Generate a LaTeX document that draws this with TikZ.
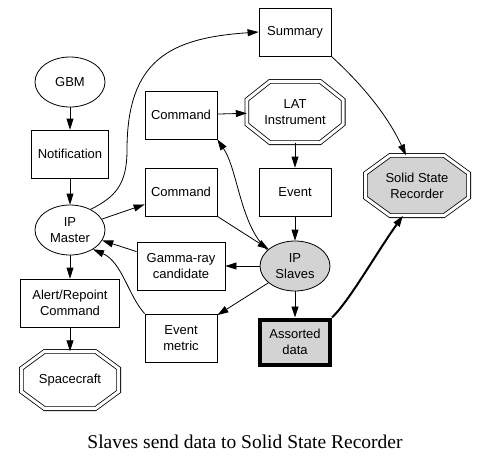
\documentclass[tikz,border=0pt]{standalone}
\usepackage{fontspec}
\setmainfont{Liberation Sans}
\newfontfamily\titleserif{Liberation Serif}
\usepackage{tikz}
\usetikzlibrary{positioning, shapes.geometric, arrows.meta, calc, backgrounds}
\definecolor{nodegray}{HTML}{D3D3D3}

% double octagon round a named node
\newcommand{\octframe}[2]{%
  \draw[octline, fill=#2]
    ($(#1.north west)!.24!(#1.north east)$) -- ($(#1.north east)!.24!(#1.north west)$)
    -- ($(#1.north east)!.3!(#1.south east)$) -- ($(#1.south east)!.3!(#1.north east)$)
    -- ($(#1.south east)!.24!(#1.south west)$) -- ($(#1.south west)!.24!(#1.south east)$)
    -- ($(#1.south west)!.3!(#1.north west)$) -- ($(#1.north west)!.3!(#1.south west)$) -- cycle;}

\begin{document}
\begin{tikzpicture}[x=1pt, y=1pt,
 font=\fontsize{13}{16}\selectfont,
 on grid,
 box/.style={draw, line width=0.8pt, minimum width=72pt, minimum height=48pt, inner xsep=6pt, align=center},
 oval/.style={draw, line width=0.8pt, ellipse, minimum width=70pt, minimum height=50pt, inner sep=0pt, align=center},
 octa/.style={rectangle, minimum width=96pt, minimum height=61pt, inner sep=0pt, align=center},
 octline/.style={line width=0.8pt, double, double distance=3pt},
 flow/.style={line width=0.8pt, -{Triangle[length=11pt,width=7pt]}}]
\useasboundingbox (0,0) rectangle (487,-467);

\node[oval](gbm) at (70,-82){GBM};
\node[box, below=72pt of gbm](notif){Notification};
\node[oval, below=76pt of notif](ipm){IP\\Master};
\node[box, below=73pt of ipm, minimum width=99pt](alert){Alert/Repoint\\Command};
\node[octa, minimum width=97pt, minimum height=57pt, below=77pt of alert](craft){Spacecraft};

\node[box](summ) at (295,-32){Summary};
\node[octa, below=80pt of summ](lat){LAT\\Instrument};
\node[box, below=80pt of lat](event){Event};
\node[oval, fill=nodegray, below=74pt of event](ips){IP\\Slaves};
\node[box, fill=nodegray, line width=4pt, minimum width=70pt, minimum height=45pt, below=76pt of ips](data){Assorted\\data};

\node[box, left=114pt of lat, yshift=-3pt](cmdlat){Command};
\node[box, left=114pt of event](cmdips){Command};
\node[box, left=114pt of ips, minimum width=88pt](gamma){Gamma-ray\\candidate};
\node[box, below=72pt of gamma](metric){Event\\metric};

\node[octa, minimum width=103pt, minimum height=60pt, right=122pt of event, yshift=6.5pt](ssr){Solid State\\Recorder};

\node[font=\titleserif\fontsize{19.5}{22}\selectfont](title) at (245,-442){Slaves send data to Solid State Recorder};

\begin{scope}[on background layer]
\octframe{craft}{white}
\octframe{lat}{white}
\octframe{ssr}{nodegray}
\end{scope}

% master side
\draw[flow](gbm)--(notif);
\draw[flow](notif)--(ipm);
\draw[flow](ipm)--(alert);
\draw[flow](alert)--(craft);
\draw[flow](ipm)--(cmdips);
\draw[flow](ipm.45) .. controls (115,-197) and (127,-185) .. (127,-150)
  .. controls (127,-60) and (170,-38) .. (summ.west);

% slaves side
\draw[flow](cmdlat)--(lat);
\draw[flow](lat)--(event);
\draw[flow](event)--(ips);
\draw[flow](ips)--(data);
\draw[flow](ips.150) .. controls (240,-225) and (238,-170) .. (cmdlat.south east);
\draw[flow](cmdips.south east)--(ips);
\draw[flow](ips)--(gamma);
\draw[flow](gamma)--(ipm);
\draw[flow](ips)--(metric);
\draw[flow](metric.north west) .. controls (128,-295) and (122,-262) .. (ipm.-40);

% recorder
\draw[flow](summ.south east) .. controls (355,-78) and (385,-110) .. (ssr.110);
\draw[flow, line width=2pt](data.north east) .. controls (350,-300) and (375,-255) .. (ssr.245);

\end{tikzpicture}
\end{document}
